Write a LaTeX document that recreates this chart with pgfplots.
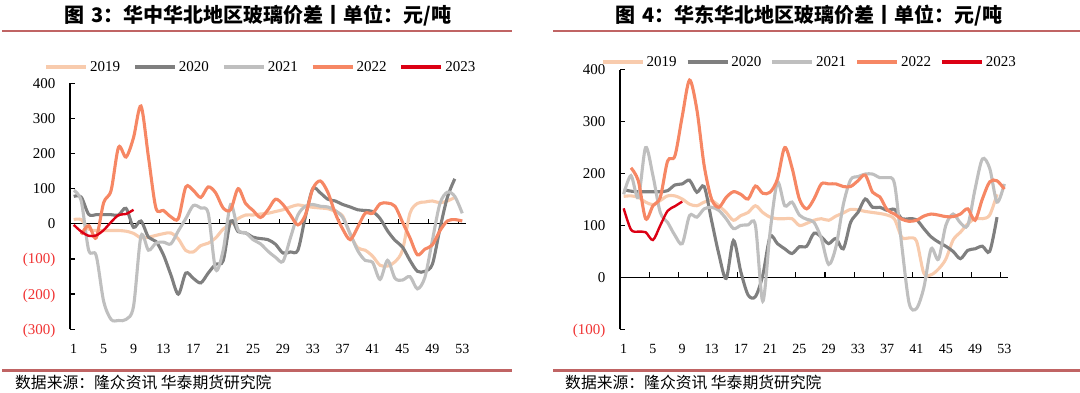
\documentclass[border=0pt]{standalone}
\usepackage{fontspec}
\setmainfont{Liberation Serif}
\newfontfamily\cjk{Noto Sans CJK SC}
\usepackage{pgfplots}
\pgfplotsset{compat=1.18}
\definecolor{c19}{RGB}{248,203,173}
\definecolor{c20}{RGB}{127,127,127}
\definecolor{c21}{RGB}{191,191,191}
\definecolor{c22}{RGB}{246,135,100}
\definecolor{c23}{RGB}{220,0,20}
\definecolor{rulered}{RGB}{192,100,100}
\definecolor{negred}{RGB}{240,50,50}
\pgfplotsset{
  panel/.style={
    scale only axis, xmin=0.5, xmax=53.5, clip=false,
    axis x line*=bottom, axis y line*=left,
    x axis line style={draw=none}, y axis line style={-,line width=1.3pt,black},
    xtick={1,5,...,53}, xticklabels={1,5,9,13,17,21,25,29,33,37,41,45,49,53},
    xtick style={draw=none},
    ytick style={line width=1.3pt, black},
    ytick align=inside, major tick length=5pt,
    xticklabel style={font=\fontsize{14}{14}\selectfont, anchor=base, yshift=-24pt},
    yticklabel style={font=\fontsize{15}{15}\selectfont, anchor=base east, xshift=-11pt, yshift=-5pt},
    legend columns=5, legend cell align=left,
    legend image code/.code={\draw[##1, line width=3.8pt] (0pt,0pt) -- (40pt,0pt);},
    legend style={draw=none, fill=none, font=\fontsize{15}{15}\selectfont, anchor=center, nodes={inner sep=2pt}},
    every axis plot/.append style={smooth, line width=3.1pt, mark=none},
  }
}
\begin{document}
\begin{tikzpicture}
\useasboundingbox (0,0) rectangle (1080pt,393pt);
% rules
\draw[rulered, line width=2.5pt] (2pt,362pt) -- (512pt,362pt);
\draw[rulered, line width=2.5pt] (553pt,362pt) -- (1080pt,362pt);
\draw[rulered, line width=2.5pt] (2pt,22.5pt) -- (512pt,22.5pt);
\draw[rulered, line width=2.5pt] (553pt,22.5pt) -- (1080pt,22.5pt);
% titles
\node[font=\cjk\bfseries\fontsize{20}{20}\selectfont] at (258pt,377pt) {图\hspace{0.35em}3：华中华北地区玻璃价差丨单位：元/吨};
\node[font=\cjk\bfseries\fontsize{20}{20}\selectfont] at (809pt,377pt) {图\hspace{0.35em}4：华东华北地区玻璃价差丨单位：元/吨};
% sources
\node[font=\cjk\fontsize{15.8}{16}\selectfont, anchor=west, inner sep=0pt] at (15pt,10pt) {数据来源：隆众资讯 华泰期货研究院};
\node[font=\cjk\fontsize{15.8}{16}\selectfont, anchor=west, inner sep=0pt] at (565pt,10pt) {数据来源：隆众资讯 华泰期货研究院};

% ---------------- left panel
\begin{axis}[panel, at={(70pt,63.7pt)}, anchor=south west, width=396pt, height=246.1pt,
  ymin=-300, ymax=400, ytick={-300,-200,-100,0,100,200,300,400},
  yticklabels={\textcolor{negred}{(300)},\textcolor{negred}{(200)},\textcolor{negred}{(100)},0,100,200,300,400},
  legend style={at={(axis description cs:0.482,1.066)}, /tikz/every even column/.append style={column sep=11pt}}]
\draw[line width=1.3pt] (axis cs:0.5,0) -- (axis cs:53.5,0);
\pgfplotsinvokeforeach{4.5,8.5,12.5,16.5,20.5,24.5,28.5,32.5,36.5,40.5,44.5,48.5,52.5}{\draw[line width=1.1pt] (axis cs:#1,0) -- ++(0pt,5pt);}
\addplot[c19] coordinates {(1,12) (2,12) (3,-15) (4,-19) (5,-19) (6,-19) (7,-19) (8,-21) (9,-27) (10,-40) (11,-38) (12,-33) (13,-28) (14,-26) (15,-43) (16,-76) (17,-80) (18,-62) (19,-55) (20,-40) (21,-15) (22,0) (23,15) (24,25) (25,25) (26,28) (27,30) (28,35) (29,40) (30,48) (31,54) (32,50) (33,47) (34,45) (35,43) (36,35) (37,22) (38,-30) (39,-68) (40,-75) (41,-92) (42,-118) (43,-120) (44,-108) (45,-75) (46,30) (47,58) (48,62) (49,65) (50,60) (51,65) (52,75)};
\addlegendentry{2019}
\addplot[c20] coordinates {(1,78) (2,76) (3,27) (4,26) (5,26) (6,26) (7,25) (8,44) (9,-10) (10,8) (11,-38) (12,-50) (13,-88) (14,-145) (15,-200) (16,-140) (17,-155) (18,-168) (19,-140) (20,-115) (21,-105) (22,8) (23,-22) (24,-26) (25,-38) (26,-42) (27,-45) (28,-58) (29,-83) (30,-80) (31,-75) (32,20) (33,100) (34,88) (35,70) (36,65) (37,55) (38,48) (39,40) (40,38) (41,35) (42,15) (43,-20) (44,-47) (45,-66) (46,-104) (47,-135) (48,-135) (49,-115) (50,-15) (51,75) (52,128)};
\addlegendentry{2020}
\addplot[c21] coordinates {(1,95) (2,65) (3,-75) (4,-90) (5,-220) (6,-272) (7,-275) (8,-272) (9,-235) (10,-35) (11,-75) (12,-55) (13,-52) (14,-57) (15,-20) (16,15) (17,52) (18,45) (19,30) (20,-130) (21,-75) (22,55) (23,-18) (24,-25) (25,-45) (26,-57) (27,-78) (28,-95) (29,-107) (30,-40) (31,25) (32,50) (33,55) (34,50) (35,48) (36,38) (37,18) (38,-28) (39,-76) (40,-104) (41,-110) (42,-158) (43,-104) (44,-155) (45,-160) (46,-150) (47,-185) (48,-152) (49,-47) (50,57) (51,90) (52,78) (53,30)};
\addlegendentry{2021}
\addplot[c22] coordinates {(2,-30) (3,-5) (4,-40) (5,60) (6,95) (7,218) (8,190) (9,245) (10,335) (11,190) (12,45) (13,38) (14,20) (15,15) (16,105) (17,95) (18,75) (19,105) (20,88) (21,45) (22,40) (23,100) (24,58) (25,38) (26,18) (27,40) (28,70) (29,55) (30,25) (31,-3) (32,25) (33,100) (34,122) (35,90) (36,30) (37,-15) (38,-45) (39,-10) (40,30) (41,30) (42,57) (43,59) (44,50) (45,5) (46,-40) (47,-88) (48,-72) (49,-60) (50,-20) (51,8) (52,12) (53,8)};
\addlegendentry{2022}
\addplot[c23, line width=2.4pt] coordinates {(1,-3) (2,-22) (3,-34) (4,-33) (5,-18) (6,5) (7,25) (8,28) (9,40)};
\addlegendentry{2023}
\end{axis}

% ---------------- right panel
\begin{axis}[panel, at={(620pt,63.7pt)}, anchor=south west, width=388pt, height=259.6pt,
  ymin=-100, ymax=400, ytick={-100,0,100,200,300,400},
  yticklabels={\textcolor{negred}{(100)},0,100,200,300,400},
  legend style={at={(axis description cs:0.488,1.0297)}, /tikz/every even column/.append style={column sep=7pt}}]
\draw[line width=1.3pt] (axis cs:0.5,0) -- (axis cs:53.5,0);
\pgfplotsinvokeforeach{4.5,8.5,12.5,16.5,20.5,24.5,28.5,32.5,36.5,40.5,44.5,48.5,52.5}{\draw[line width=1.1pt] (axis cs:#1,0) -- ++(0pt,5pt);}
\addplot[c19] coordinates {(1,156) (2,157) (3,154) (4,145) (5,140) (6,148) (7,157) (8,157) (9,151) (10,141) (11,138) (12,145) (13,148) (14,138) (15,125) (16,110) (17,119) (18,125) (19,138) (20,125) (21,116) (22,113) (23,113) (24,113) (25,100) (26,104) (27,110) (28,113) (29,110) (30,118) (31,124) (32,131) (33,130) (34,127) (35,125) (36,123) (37,120) (38,112) (39,77) (40,76) (41,70) (42,8) (43,5) (44,16) (45,35) (46,72) (47,87) (48,103) (49,113) (50,113) (51,120) (52,160)};
\addlegendentry{2019}
\addplot[c20] coordinates {(1,169) (2,166) (3,165) (4,165) (5,165) (6,165) (7,167) (8,178) (9,180) (10,187) (11,164) (12,175) (13,110) (14,45) (15,-2) (16,71) (17,11) (18,-34) (19,-37) (20,4) (21,78) (22,65) (23,55) (24,46) (25,59) (26,60) (27,85) (28,78) (29,65) (30,75) (31,55) (32,106) (33,125) (34,151) (35,135) (36,135) (37,129) (38,131) (39,113) (40,113) (41,111) (42,94) (43,78) (44,68) (45,60) (46,50) (47,36) (48,52) (49,55) (50,60) (51,50) (52,116)};
\addlegendentry{2020}
\addplot[c21] coordinates {(1,160) (2,196) (3,154) (4,250) (5,196) (6,125) (7,106) (8,81) (9,65) (10,119) (11,116) (12,132) (13,135) (14,129) (15,113) (16,94) (17,100) (18,101) (19,100) (20,-46) (21,87) (22,183) (23,138) (24,145) (25,120) (26,112) (27,106) (28,75) (29,25) (30,59) (31,140) (32,188) (33,194) (34,199) (35,199) (36,192) (37,192) (38,180) (39,60) (40,-50) (41,-60) (42,-20) (43,55) (44,35) (45,100) (46,122) (47,105) (48,100) (49,170) (50,228) (51,210) (52,145) (53,180)};
\addlegendentry{2021}
\addplot[c22] coordinates {(2,211) (3,186) (4,113) (5,138) (6,154) (7,224) (8,234) (9,310) (10,380) (11,323) (12,215) (13,151) (14,135) (15,154) (16,165) (17,160) (18,151) (19,176) (20,162) (21,164) (22,189) (23,250) (24,211) (25,151) (26,132) (27,151) (28,180) (29,180) (30,180) (31,175) (32,175) (33,186) (34,197) (35,164) (36,155) (37,130) (38,122) (39,112) (40,108) (41,110) (42,118) (43,122) (44,120) (45,117) (46,117) (47,122) (48,132) (49,110) (50,151) (51,184) (52,186) (53,170)};
\addlegendentry{2022}
\addplot[c23, line width=2.4pt] coordinates {(1,133) (2,92) (3,88) (4,87) (5,72) (6,100) (7,128) (8,137) (9,146)};
\addlegendentry{2023}
\end{axis}
\end{tikzpicture}
\end{document}
